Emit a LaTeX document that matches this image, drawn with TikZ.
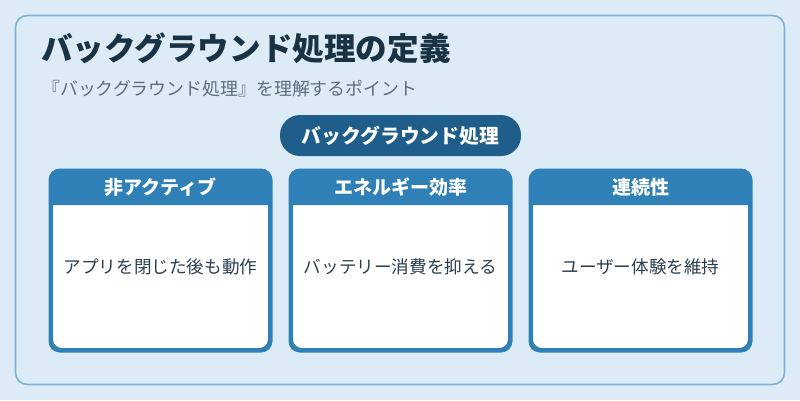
\documentclass[tikz,border=0pt]{standalone}
\usepackage{fontspec}
\setmainfont{Noto Sans CJK JP}
\usetikzlibrary{calc}
\definecolor{bg}{HTML}{DDEBF6}
\definecolor{frame}{HTML}{7FB2D4}
\definecolor{titlec}{HTML}{1A3344}
\definecolor{subc}{HTML}{5D6D7E}
\definecolor{pillc}{HTML}{1F5E8A}
\definecolor{cardblue}{HTML}{2E80B6}
\definecolor{bodyc}{HTML}{2C3E50}
\tikzset{
  card/.style={draw=cardblue, line width=3pt, rounded corners=10pt, minimum width=218pt, minimum height=178pt, inner sep=0pt},
  headtext/.style={text=white, font=\fontsize{19}{21}\selectfont\bfseries, anchor=center},
  bodytext/.style={text=bodyc, font=\fontsize{17.6}{20}\selectfont, anchor=center},
}
\begin{document}
\begin{tikzpicture}[x=1pt,y=-1pt]
\fill[bg] (0,0) rectangle (800,400);
\useasboundingbox (0,0) rectangle (800,400);
\draw[frame, line width=1.6pt, rounded corners=12pt] (15.5,15.5) rectangle (784.5,384.5);
\node[anchor=west, text=titlec, font=\fontsize{31.6}{36}\selectfont\bfseries, inner sep=0pt] (title) at (41,48) {バックグラウンド処理の定義};
\node[anchor=west, text=subc, font=\fontsize{17.9}{20}\selectfont, inner sep=0pt] (sub) at (42,89) {『バックグラウンド処理』を理解するポイント};
\node[fill=pillc, rounded corners=20pt, minimum width=241pt, minimum height=41pt, inner sep=0pt, text=white, font=\fontsize{19.8}{22}\selectfont\bfseries] (pill) at (400.5,135.5) {バックグラウンド処理};
\foreach \i/\cx/\head/\body in {1/160.5/非アクティブ/アプリを閉じた後も動作, 2/400.5/エネルギー効率/バッテリー消費を抑える, 3/640.5/連続性/ユーザー体験を維持}{
  \node[card, fill=white] (c\i) at (\cx,260.5) {};
  \fill[cardblue] ($(c\i.north west)+(0,35)$) [rounded corners=10pt] -- (c\i.north west) -- (c\i.north east) [sharp corners] -- ($(c\i.north east)+(0,35)$) -- cycle;
  \draw[cardblue, line width=3pt, rounded corners=10pt] (c\i.north west) rectangle (c\i.south east);
  \node[headtext] (h\i) at ($(c\i.north)+(0,17.5)$) {\head};
  \node[bodytext] (b\i) at ($(c\i.center)+(0,6)$) {\body};
}
\end{tikzpicture}
\end{document}
